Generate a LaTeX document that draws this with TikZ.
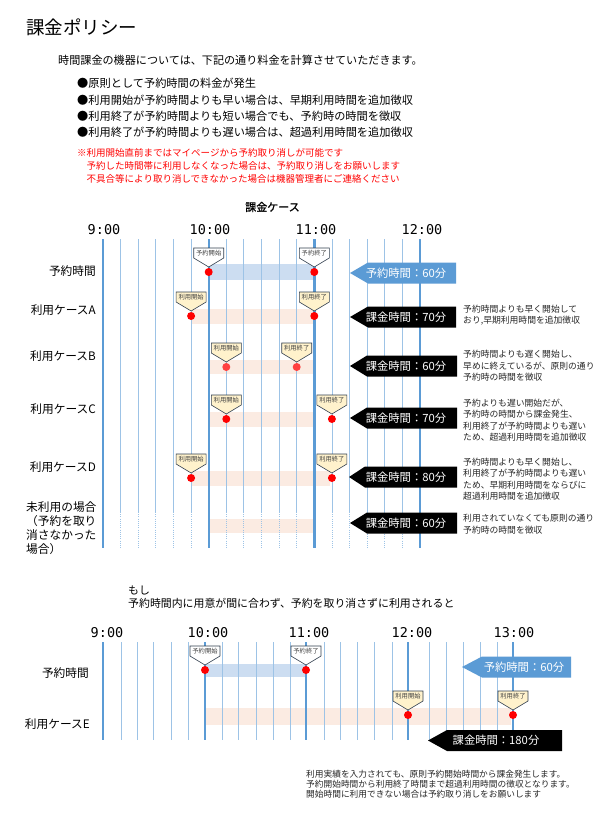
\documentclass[tikz,border=0pt]{standalone}
\usepackage{fontspec}
\setmainfont{Noto Sans CJK JP}
\newfontfamily\timefont{DejaVu Sans Mono}
\newfontfamily\boldcjk[FakeBold=1.2]{Noto Sans CJK JP}
\definecolor{majorc}{RGB}{91,155,213}
\definecolor{minorc}{RGB}{157,195,230}
\definecolor{resbarc}{RGB}{204,221,241}
\definecolor{usebarc}{RGB}{251,235,226}
\definecolor{yellowc}{RGB}{255,242,204}
\definecolor{calloutc}{RGB}{50,63,79}
\definecolor{arrblue}{RGB}{91,155,213}
\definecolor{dotc}{RGB}{255,0,0}
\definecolor{dotb}{RGB}{255,64,64}
\definecolor{redtext}{RGB}{255,0,0}
\newcommand\fs[2]{\fontsize{#1}{#2}\selectfont}
% callout flag: name, x, dot y, fill, text
\newcommand\callout[5]{%
  \draw[calloutbox, fill=#4] (#2-15,#3-24) -- (#2+15,#3-24) -- (#2+15,#3-14) -- (#2,#3-5) -- (#2-15,#3-14) -- cycle;
  \node[callouttext] (#1) at (#2,#3-19) {#5};
}
% tag arrow: name, tip x, centre y, head length, right x, colour, text x, text
\newcommand\tagarrow[8]{%
  \fill[#6] (#2,#3) -- (#2+#4,#3-10.5) -- (#5,#3-10.5) -- (#5,#3+10.5) -- (#2+#4,#3+10.5) -- cycle;
  \node[arrtext] (#1) at (#7,#3) {#8};
}
\begin{document}
\begin{tikzpicture}[x=1pt,y=-1pt,
  txt/.style={inner sep=0pt, anchor=west},
  major/.style={draw=majorc, line width=2.4pt},
  minor/.style={draw=minorc, line width=0.9pt},
  minordot/.style={draw=minorc, line width=0.9pt, dash pattern=on 1pt off 1.2pt},
  calloutbox/.style={draw=calloutc, line width=0.6pt},
  callouttext/.style={inner sep=0pt, font=\fs{6.3}{7}, text=black!75},
  reddot/.style={circle, fill=dotc, inner sep=0pt, minimum size=8pt},
  reddotb/.style={circle, fill=dotb, inner sep=0pt, minimum size=8pt},
  rowlabel/.style={inner sep=0pt, anchor=east, font=\fs{11.7}{14}},
  tlabel/.style={inner sep=0pt, font=\timefont\fs{13.5}{15}},
  arrtext/.style={inner sep=0pt, text=white, font=\fs{11.3}{13}},
  desc/.style={inner sep=0pt, anchor=west, align=left, font=\fs{8.8}{11.5}, text=black!85},
]
\useasboundingbox[fill=white] (0,0) rectangle (602,818);

% ---------- header ----------
\node[txt, font=\fs{18.5}{20}] (title) at (26,27) {課金ポリシー};
\node[txt, font=\fs{11.1}{13}] (intro) at (58,60) {時間課金の機器については、下記の通り料金を計算させていただきます。};
\node[txt, font=\fs{11.2}{13}] (b1) at (77,83) {●原則として予約時間の料金が発生};
\node[txt, font=\fs{11.2}{13}] (b2) at (77,100) {●利用開始が予約時間よりも早い場合は、早期利用時間を追加徴収};
\node[txt, font=\fs{11.2}{13}] (b3) at (77,116) {●利用終了が予約時間よりも短い場合でも、予約時の時間を徴収};
\node[txt, font=\fs{11.2}{13}] (b4) at (77,132) {●利用終了が予約時間よりも遅い場合は、超過利用時間を追加徴収};
\node[txt, font=\fs{9.5}{11}, text=redtext] (r1) at (77,153) {※利用開始直前まではマイページから予約取り消しが可能です};
\node[txt, font=\fs{9.5}{11}, text=redtext] (r2) at (86.5,166) {予約した時間帯に利用しなくなった場合は、予約取り消しをお願いします};
\node[txt, font=\fs{9.5}{11}, text=redtext] (r3) at (86.5,179) {不具合等により取り消しできなかった場合は機器管理者にご連絡ください};

% ---------- top chart ----------
\node[inner sep=0pt, font=\boldcjk\fs{11}{13}] (case) at (272.5,207) {課金ケース};
\node[tlabel] (h9) at (104,230) {9:00};
\node[tlabel] (h10) at (210,230) {10:00};
\node[tlabel] (h11) at (316,230) {11:00};
\node[tlabel] (h12) at (422,230) {12:00};

% bars
\fill[resbarc] (208.7,264) rectangle (314.3,280);
\fill[usebarc] (191.1,308.5) rectangle (314.3,323.5);
\fill[usebarc] (208.7,360) rectangle (314.3,374);
\fill[usebarc] (208.7,412) rectangle (314.3,427);
\fill[usebarc] (191.1,471) rectangle (330,486);
\fill[usebarc] (208.7,519) rectangle (314.3,533);

% grid
\foreach \x in {120.6,138.2,155.8,173.4,191.1,226.3,243.9,261.5,279.1,296.7,332.0,349.6,367.2,384.8,402.4} {
  \draw[minor] (\x,239) -- (\x,512);
  \draw[minordot] (\x,512) -- (\x,548);
}
\foreach \x in {103,208.7,314.3,420} { \draw[major] (\x,239) -- (\x,548); }

% callouts and dots
\callout{c01}{208.7}{272}{white}{予約開始}
\callout{c02}{314.3}{272}{white}{予約終了}
\node[reddot] (d01) at (208.7,272) {};
\node[reddot] (d02) at (314.3,272) {};
\callout{c11}{191.1}{316}{yellowc}{利用開始}
\callout{c12}{314.3}{316}{yellowc}{利用終了}
\node[reddot] (d11) at (191.1,316) {};
\node[reddot] (d12) at (314.3,316) {};
\callout{c21}{226.3}{367}{yellowc}{利用開始}
\callout{c22}{296.7}{367}{yellowc}{利用終了}
\node[reddotb] (d21) at (226.3,367) {};
\node[reddotb] (d22) at (296.7,367) {};
\callout{c31}{226.3}{419}{yellowc}{利用開始}
\callout{c32}{331.9}{419}{yellowc}{利用終了}
\node[reddot] (d31) at (226.3,419) {};
\node[reddot] (d32) at (331.9,419) {};
\callout{c41}{191.1}{478}{yellowc}{利用開始}
\callout{c42}{331.9}{478}{yellowc}{利用終了}
\node[reddot] (d41) at (191.1,478) {};
\node[reddot] (d42) at (331.9,478) {};

% row labels
\node[rowlabel] (l0) at (96,271) {予約時間};
\node[rowlabel] (l1) at (96,310) {利用ケースA};
\node[rowlabel] (l2) at (96,356) {利用ケースB};
\node[rowlabel] (l3) at (96,409) {利用ケースC};
\node[rowlabel] (l4) at (96,467) {利用ケースD};
\node[inner sep=0pt, anchor=west, align=left, font=\fs{11.7}{14}] (l5) at (26,528) {未利用の場合\\（予約を取り\\消さなかった\\場合）};

% tag arrows
\tagarrow{a0}{350}{273}{18}{456}{arrblue}{406}{予約時間：60分}
\tagarrow{a1}{350}{317}{18}{456}{black}{406}{課金時間：70分}
\tagarrow{a2}{350}{366}{17}{457}{black}{406}{課金時間：60分}
\tagarrow{a3}{350}{418}{17}{457}{black}{406}{課金時間：70分}
\tagarrow{a4}{349}{477}{16}{457}{black}{406}{課金時間：80分}
\tagarrow{a5}{350}{523}{17}{457}{black}{406}{課金時間：60分}

% descriptions
\node[desc] (t1) at (463,315) {予約時間よりも早く開始して\\おり,早期利用時間を追加徴収};
\node[desc] (t2) at (463,366) {予約時間よりも遅く開始し、\\早めに終えているが、原則の通り\\予約時の時間を徴収};
\node[desc] (t3) at (463,420) {予約よりも遅い開始だが、\\予約時の時間から課金発生、\\利用終了が予約時間よりも遅い\\ため、超過利用時間を追加徴収};
\node[desc] (t4) at (463,479) {予約時間よりも早く開始し、\\利用終了が予約時間よりも遅い\\ため、早期利用時間をならびに\\超過利用時間を追加徴収};
\node[desc] (t5) at (463,524) {利用されていなくても原則の通り\\予約時の時間を徴収};

% ---------- bottom chart ----------
\node[txt, font=\fs{10.9}{13}] (m1) at (128,590) {もし};
\node[txt, font=\fs{10.9}{13}] (m2) at (128,603) {予約時間内に用意が間に合わず、予約を取り消さずに利用されると};
\node[tlabel] (g9) at (107,633) {9:00};
\node[tlabel] (g10) at (208,633) {10:00};
\node[tlabel] (g11) at (309,633) {11:00};
\node[tlabel] (g12) at (412,633) {12:00};
\node[tlabel] (g13) at (514,633) {13:00};

\fill[resbarc] (205,664) rectangle (306,677);
\fill[usebarc] (205,708) rectangle (511,725);

\foreach \x in {121,137,153,171,188,222,238,256,273,290,324,340,357,374,392,429,446,463,480,497} {
  \draw[minor] (\x,642) -- (\x,740);
}
\foreach \x in {103,205,306,408,513} { \draw[major] (\x,642) -- (\x,740); }

\callout{e01}{205}{670}{white}{予約開始}
\callout{e02}{306}{670}{white}{予約終了}
\node[reddot] (f01) at (205,670) {};
\node[reddot] (f02) at (306,670) {};
\callout{e11}{408}{715}{yellowc}{利用開始}
\callout{e12}{513}{715}{yellowc}{利用終了}
\node[reddot] (f11) at (408,715) {};
\node[reddot] (f12) at (513,715) {};

\node[rowlabel] (k0) at (89,673) {予約時間};
\node[rowlabel] (k1) at (90,724) {利用ケースE};

\tagarrow{b0}{462}{667}{20}{571}{arrblue}{524}{予約時間：60分}
\tagarrow{b1}{428}{740.5}{19}{562}{black}{496}{課金時間：180分}

\node[inner sep=0pt, anchor=west, align=left, font=\fs{8.7}{9.9}, text=black!85] (note) at (306,784) {利用実績を入力されても、原則予約開始時間から課金発生します。\\予約開始時間から利用終了時間まで超過利用時間の徴収となります。\\開始時間に利用できない場合は予約取り消しをお願いします};
\end{tikzpicture}
\end{document}
